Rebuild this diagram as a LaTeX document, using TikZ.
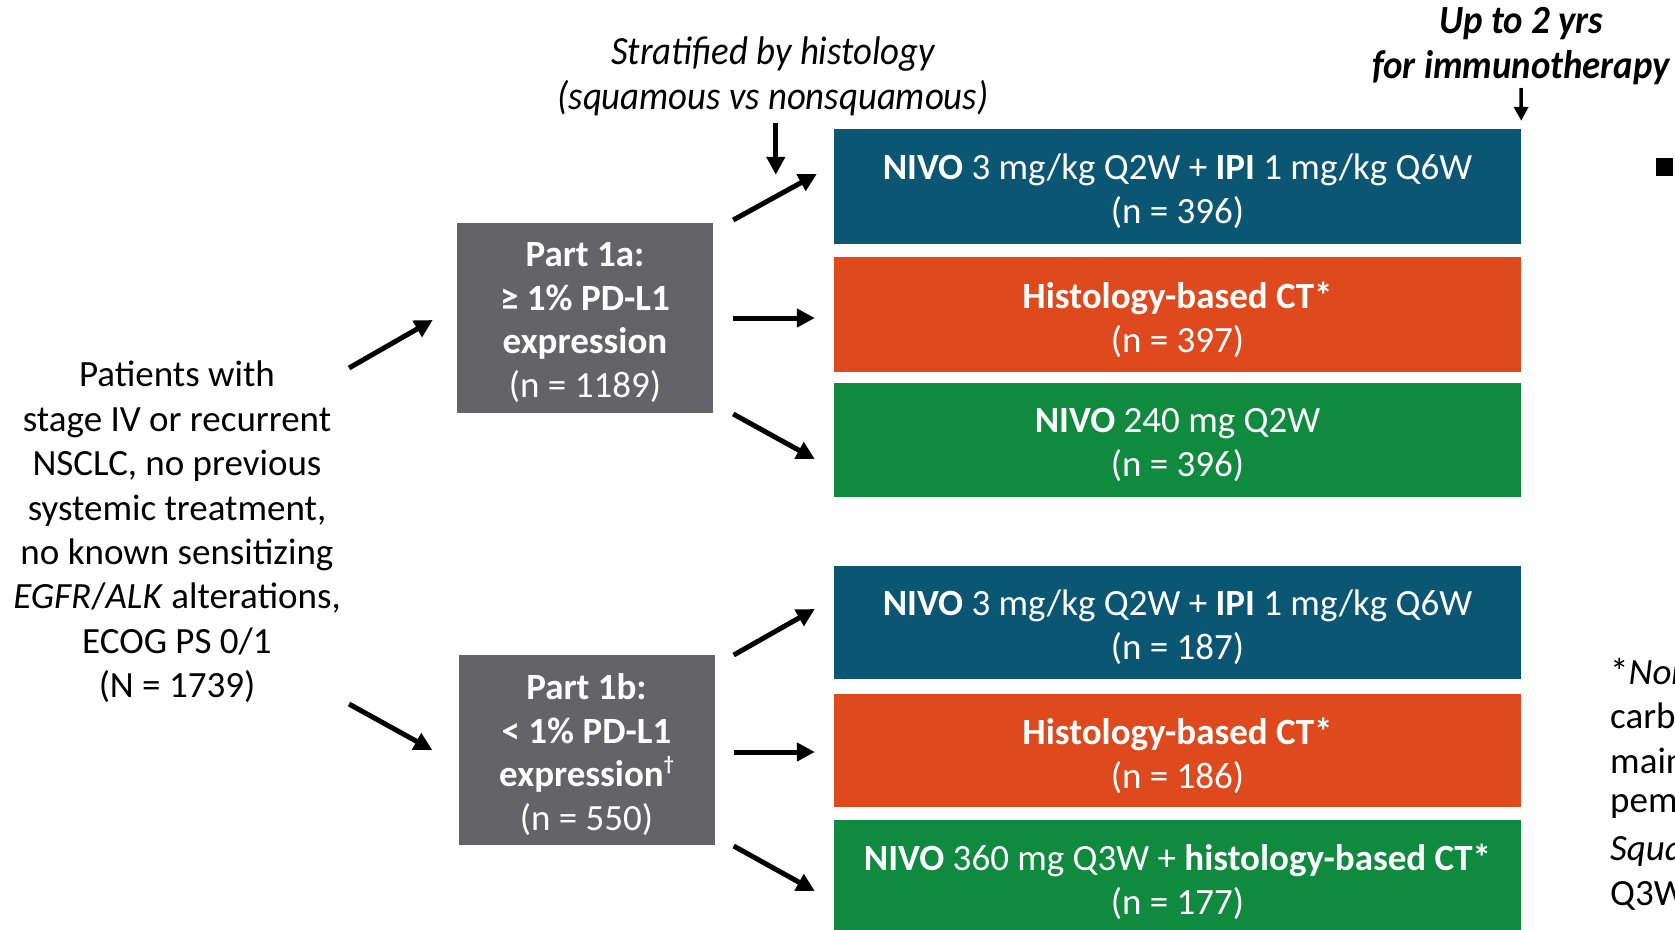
\documentclass[tikz,border=0pt]{standalone}
\usepackage{fontspec}
\setmainfont{Carlito}
\newfontfamily\condit[FakeStretch=0.92]{Carlito}
\usetikzlibrary{arrows.meta,calc}
\definecolor{cblue}{HTML}{0B5673}
\definecolor{corange}{HTML}{DE4A1E}
\definecolor{cgreen}{HTML}{108A3E}
\definecolor{cgray}{HTML}{646468}
\begin{document}
\begin{tikzpicture}[x=1pt,y=-1pt,
  armbox/.style={minimum width=687pt, minimum height=115pt, inner sep=0pt},
  armtext/.style={inner sep=0pt, text=white, align=center, font=\fontsize{37}{43.8}\selectfont},
  partbox/.style={fill=cgray, minimum width=256pt, minimum height=190pt, inner sep=0pt},
  arr/.style={line width=5pt, -{Triangle[length=18pt,width=18pt]}},
  thinarr/.style={line width=3.5pt, -{Triangle[length=14pt,width=14pt]}},
  toplabel/.style={inner sep=0pt, align=center, font=\condit\itshape\fontsize{40}{45}\selectfont},
  foot/.style={inner sep=0pt, anchor=west, font=\fontsize{37}{45}\selectfont},
]
\useasboundingbox (0,0) rectangle (1675,929);
\clip (0,0) rectangle (1675,929);

% left text
\node[inner sep=0pt, align=center, font=\fontsize{37}{44.4}\selectfont] (pat) at (177,532)
  {Patients with\\stage IV or recurrent\\NSCLC, no previous\\systemic treatment,\\no known sensitizing\\\textit{EGFR}/\textit{ALK} alterations,\\ECOG PS 0/1\\(N = 1739)};

% part boxes
\node[partbox] (p1a) at (585,317.5) {};
\node[armtext] (p1at) at ($(p1a.center)+(0,5)$) {\textbf{Part 1a:}\\\textbf{≥ 1\% PD-L1}\\\textbf{expression}\\(n = 1189)};
\node[partbox] (p1b) at (586.5,749.5) {};
\node[armtext] (p1bt) at ($(p1b.center)+(0,5)$) {\textbf{Part 1b:}\\\textbf{< 1\% PD-L1}\\\textbf{expression\raisebox{0.45em}{\fontsize{20}{20}\selectfont †}}\\(n = 550)};

% arm boxes
\node[armbox, fill=cblue] (b1) at (1177.5,186.5) {};
\node[armtext] (b1t) at ($(b1.center)+(0,5)$) {\textbf{NIVO} 3 mg/kg Q2W + \textbf{IPI} 1 mg/kg Q6W\\(n = 396)};
\node[armbox, fill=corange] (o1) at (1177.5,314.5) {};
\node[armtext] (o1t) at ($(o1.center)+(0,5)$) {\textbf{Histology-based CT*}\\(n = 397)};
\node[armbox, fill=cgreen, minimum height=114pt] (g1) at (1177.5,440) {};
\node[armtext] (g1t) at ($(g1.center)+(0,5)$) {\textbf{NIVO} 240 mg Q2W\\(n = 396)};
\node[armbox, fill=cblue, minimum height=113pt] (b2) at (1177.5,622.5) {};
\node[armtext] (b2t) at ($(b2.center)+(0,5)$) {\textbf{NIVO} 3 mg/kg Q2W + \textbf{IPI} 1 mg/kg Q6W\\(n = 187)};
\node[armbox, fill=corange, minimum height=113pt] (o2) at (1177.5,750.5) {};
\node[armtext] (o2t) at ($(o2.center)+(0,5)$) {\textbf{Histology-based CT*}\\(n = 186)};
\node[armbox, fill=cgreen, minimum height=113pt] (g2) at (1177.5,876.5) {};
\node[armtext] (g2t) at ($(g2.center)+(0,5)$) {\textbf{NIVO} 360 mg Q3W + \textbf{histology-based CT*}\\(n = 177)};

% top labels
\node[toplabel] (strat) at (773,76) {Stratified by histology\\(squamous vs nonsquamous)};
\node[toplabel, font=\condit\bfseries\itshape\fontsize{40}{45}\selectfont] (imm) at (1521,46) {Up to 2 yrs\\for immunotherapy};

% bullet and footnote fragments
\node[fill=black, minimum width=17pt, minimum height=18pt, inner sep=0pt] (bul) at (1664.5,167) {};
\node[foot] (f1) at (1610,671) {*\textit{Non}};
\node[foot] (f2) at (1610,716) {carb};
\node[foot] (f3) at (1610,761) {main};
\node[foot] (f4) at (1610,806) {pem};
\node[foot] (f5) at (1610,851) {\textit{Squa}};
\node[foot] (f6) at (1610,896) {Q3W};

% arrows
\draw[arr] ($(pat.center)+(172,-164)$) -- ($(p1a.west)+(-24,2.5)$);
\draw[arr] ($(pat.center)+(172,172)$) -- ($(p1b.west)+(-26,0.5)$);

\draw[arr] ($(p1a.east)+(20,-97.5)$) -- ($(b1.west)+(-17,-12.5)$);
\draw[arr] ($(p1a.east)+(20,0.5)$) -- ($(o1.west)+(-19,3.5)$);
\draw[arr] ($(p1a.east)+(20,96.5)$) -- ($(g1.west)+(-19,19)$);

\draw[arr] ($(p1b.east)+(19,-94.5)$) -- ($(b2.west)+(-19,-13.5)$);
\draw[arr] ($(p1b.east)+(19,2.5)$) -- ($(o2.west)+(-19,1.5)$);
\draw[arr] ($(p1b.east)+(19,96.5)$) -- ($(g2.west)+(-19,14.5)$);

\draw[arr] ($(b1.north west)+(-58,-6)$) -- ($(b1.north west)+(-58,46)$);
\draw[thinarr] ($(imm.center)+(0,42)$) -- ($(b1.north east)+(0,-8)$);
\end{tikzpicture}
\end{document}
